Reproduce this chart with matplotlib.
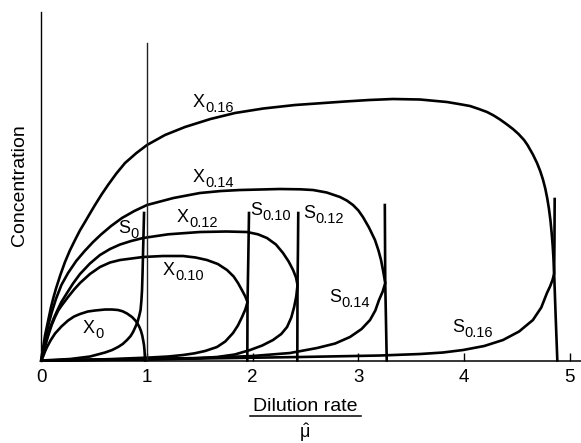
import matplotlib
matplotlib.use("Agg")
import matplotlib.pyplot as plt
from matplotlib.lines import Line2D

plt.rcParams["font.family"] = ["Liberation Sans", "DejaVu Sans"]
plt.rcParams["mathtext.fontset"] = "custom"
plt.rcParams["mathtext.rm"] = "Liberation Sans"
plt.rcParams["mathtext.it"] = "Liberation Sans"
plt.rcParams["mathtext.bf"] = "Liberation Sans:bold"
plt.rcParams["mathtext.default"] = "regular"

# dilution rate / mu_max  vs  concentration (arbitrary units)
# X curves: biomass, S curves: substrate, for recycle ratios 0 .. 0.16
x0_d = [0, 0.008, 0.019, 0.035, 0.054, 0.09, 0.130, 0.19, 0.253, 0.31, 0.366, 0.44, 0.508, 0.603, 0.67,
        0.726, 0.77, 0.811, 0.858, 0.89, 0.910, 0.93, 0.943, 0.955, 0.965, 0.972, 0.976, 0.979, 0.981]
x0_c = [0, 0.02, 0.045, 0.09, 0.135, 0.205, 0.27, 0.34, 0.40, 0.44, 0.465, 0.49, 0.50, 0.51, 0.51,
        0.505, 0.492, 0.47, 0.435, 0.40, 0.37, 0.33, 0.295, 0.25, 0.195, 0.15, 0.105, 0.05, 0]

s0_d = [0, 0.272, 0.461, 0.603, 0.67, 0.726, 0.77, 0.811, 0.845, 0.868, 0.89, 0.910, 0.926, 0.939,
        0.947, 0.953, 0.958, 0.962, 0.967, 0.972]
s0_c = [0, 0.015, 0.04, 0.08, 0.105, 0.135, 0.165, 0.205, 0.245, 0.285, 0.335, 0.385, 0.445, 0.505,
        0.6, 0.705, 0.88, 1.055, 1.26, 1.475]

x010_d = [0, 0.012, 0.026, 0.05, 0.073, 0.10, 0.130, 0.16, 0.196, 0.253, 0.31, 0.366, 0.46, 0.555, 0.65,
          0.745, 0.962, 1.15, 1.341, 1.46, 1.567, 1.67, 1.757, 1.82, 1.861, 1.90, 1.93, 1.951, 1.950, 1.949]
x010_c = [0, 0.05, 0.105, 0.195, 0.275, 0.36, 0.435, 0.50, 0.555, 0.635, 0.71, 0.775, 0.865, 0.935, 0.98,
          1.005, 1.035, 1.045, 1.045, 1.03, 1.005, 0.965, 0.905, 0.84, 0.775, 0.70, 0.64, 0.585, 0.30, 0]

s010_d = [0, 0.555, 1.028, 1.2, 1.341, 1.45, 1.549, 1.662, 1.74, 1.814, 1.86, 1.899, 1.93, 1.951, 1.958, 1.965]
s010_c = [0, 0.01, 0.03, 0.04, 0.055, 0.072, 0.095, 0.135, 0.19, 0.275, 0.35, 0.435, 0.51, 0.585, 1.0, 1.475]

x012_d = [0, 0.012, 0.026, 0.05, 0.082, 0.115, 0.149, 0.19, 0.243, 0.30, 0.366, 0.46, 0.555, 0.65, 0.745,
          0.85, 0.962, 1.2, 1.501, 1.75, 1.946, 2.05, 2.135, 2.22, 2.287, 2.34, 2.382, 2.41, 2.424, 2.423, 2.422]
x012_c = [0, 0.055, 0.115, 0.21, 0.325, 0.415, 0.495, 0.585, 0.675, 0.77, 0.865, 0.97, 1.055, 1.115, 1.16,
          1.195, 1.225, 1.262, 1.285, 1.29, 1.285, 1.262, 1.225, 1.16, 1.075, 0.99, 0.905, 0.83, 0.755, 0.38, 0]

s012_d = [0, 1.028, 1.45, 1.662, 1.83, 1.975, 2.09, 2.192, 2.27, 2.325, 2.365, 2.392, 2.412, 2.424, 2.428, 2.431]
s012_c = [0, 0.01, 0.022, 0.035, 0.06, 0.105, 0.15, 0.205, 0.265, 0.335, 0.43, 0.535, 0.64, 0.755, 1.1, 1.475]

x014_d = [0, 0.008, 0.016, 0.035, 0.054, 0.075, 0.101, 0.14, 0.19, 0.253, 0.33, 0.41, 0.49, 0.565, 0.66,
          0.763, 0.88, 1.0, 1.25, 1.501, 1.7, 1.880, 2.258, 2.45, 2.571, 2.7, 2.826, 2.89, 2.949, 3.0,
          3.043, 3.10, 3.157, 3.19, 3.214, 3.235, 3.254, 3.261, 3.268]
x014_c = [0, 0.045, 0.09, 0.2, 0.295, 0.39, 0.49, 0.62, 0.755, 0.875, 0.995, 1.095, 1.185, 1.26, 1.345,
          1.425, 1.495, 1.555, 1.625, 1.675, 1.695, 1.705, 1.715, 1.712, 1.705, 1.68, 1.635, 1.60, 1.555, 1.50,
          1.435, 1.33, 1.205, 1.10, 1.005, 0.89, 0.775, 0.39, 0]

s014_d = [0, 1.501, 2.0, 2.353, 2.609, 2.78, 2.92, 3.03, 3.110, 3.16, 3.195, 3.23, 3.254, 3.252, 3.250]
s014_c = [0, 0.025, 0.045, 0.075, 0.125, 0.17, 0.235, 0.315, 0.405, 0.50, 0.605, 0.69, 0.775, 1.155, 1.555]

x016_d = [0, 0.01, 0.021, 0.035, 0.054, 0.075, 0.092, 0.115, 0.139, 0.18, 0.224, 0.27, 0.319, 0.365, 0.413,
          0.46, 0.508, 0.57, 0.631, 0.71, 0.792, 0.9, 1.0, 1.17, 1.359, 1.6, 1.832, 2.1, 2.4, 2.873, 3.1,
          3.327, 3.583, 3.838, 3.95, 4.056, 4.14, 4.217, 4.28, 4.340, 4.40, 4.462, 4.515, 4.567, 4.60,
          4.651, 4.69, 4.72, 4.746, 4.768, 4.787, 4.803, 4.817, 4.828, 4.838, 4.845, 4.852, 4.866, 4.882]
x016_c = [0, 0.08, 0.155, 0.25, 0.345, 0.45, 0.535, 0.63, 0.72, 0.855, 0.985, 1.10, 1.205, 1.30, 1.385,
          1.47, 1.555, 1.66, 1.755, 1.87, 1.975, 2.075, 2.155, 2.255, 2.335, 2.415, 2.475, 2.52, 2.555, 2.59, 2.605,
          2.615, 2.61, 2.585, 2.565, 2.545, 2.515, 2.485, 2.45, 2.41, 2.365, 2.315, 2.265, 2.205, 2.155,
          2.06, 1.975, 1.895, 1.81, 1.72, 1.62, 1.515, 1.40, 1.28, 1.15, 1.03, 0.87, 0.45, 0]

s016_d = [0, 1.501, 2.447, 3.204, 3.583, 3.80, 3.990, 4.19, 4.368, 4.52, 4.651, 4.73, 4.784, 4.815, 4.838,
          4.852, 4.855, 4.857]
s016_c = [0, 0.02, 0.035, 0.05, 0.065, 0.08, 0.105, 0.145, 0.205, 0.29, 0.405, 0.53, 0.675, 0.745, 0.81,
          0.87, 1.2, 1.615]

# mu_max marker line at D/mu = 1
ref_d = 1.0
ref_top = 3.175

xticks = [0, 1, 2, 3, 4, 5]

curves = [(x0_d, x0_c), (s0_d, s0_c), (x010_d, x010_c), (s010_d, s010_c),
          (x012_d, x012_c), (s012_d, s012_c), (x014_d, x014_c), (s014_d, s014_c),
          (x016_d, x016_c), (s016_d, s016_c)]

# label letter, subscript, anchor (left, baseline) in data coords
labels = [
    ("X", "0.16", 1.435, 2.535),
    ("X", "0.14", 1.435, 1.785),
    ("X", "0.12", 1.284, 1.385),
    ("X", "0.10", 1.151, 0.855),
    ("X", "0", 0.395, 0.275),
    ("S", "0", 0.726, 1.275),
    ("S", "0.10", 1.975, 1.455),
    ("S", "0.12", 2.476, 1.425),
    ("S", "0.14", 2.722, 0.585),
    ("S", "0.16", 3.885, 0.285),
]

fig = plt.figure(figsize=(5.81, 4.43), dpi=100)
ax = fig.add_axes([0.0711, 0.1862, 0.9289, 0.7867])

for d, c in curves:
    ax.plot(d, c, color="black", lw=1.9, solid_joinstyle="round", clip_on=False)

ax.plot([ref_d, ref_d], [0, ref_top], color="#222222", lw=1.0)

for main, sub, xd, yc in labels:
    ax.text(xd, yc, main, fontsize=13, ha="left", va="baseline")
    ax.annotate(sub, xy=(xd, yc), xytext=(8.9, -3.6), textcoords="offset points",
                fontsize=10.5, ha="left", va="baseline")

ax.set_xlim(0, 5.106)
ax.set_ylim(0, 3.485)
ax.spines["top"].set_visible(False)
ax.spines["right"].set_visible(False)
ax.spines["left"].set_linewidth(1.0)
ax.spines["bottom"].set_linewidth(1.1)
ax.set_yticks([])
ax.set_xticks(xticks)
ax.tick_params(axis="x", direction="in", length=6, width=1.0, pad=6, labelsize=13.5)

# y label and fraction-style x label
fig.text(20 / 581, 1 - 185 / 443, "Concentration", rotation=90, ha="center", va="center", fontsize=14)
fig.text(305 / 581, 1 - 411 / 443, "Dilution rate", ha="center", va="baseline", fontsize=14)
fig.add_artist(Line2D([250 / 581, 361 / 581], [1 - 416 / 443, 1 - 416 / 443], color="black", lw=1.1))
fig.text(305 / 581, 1 - 438 / 443, r"$\hat{\mu}$", ha="center", va="baseline", fontsize=13)

fig.savefig("out.png", dpi=100)
